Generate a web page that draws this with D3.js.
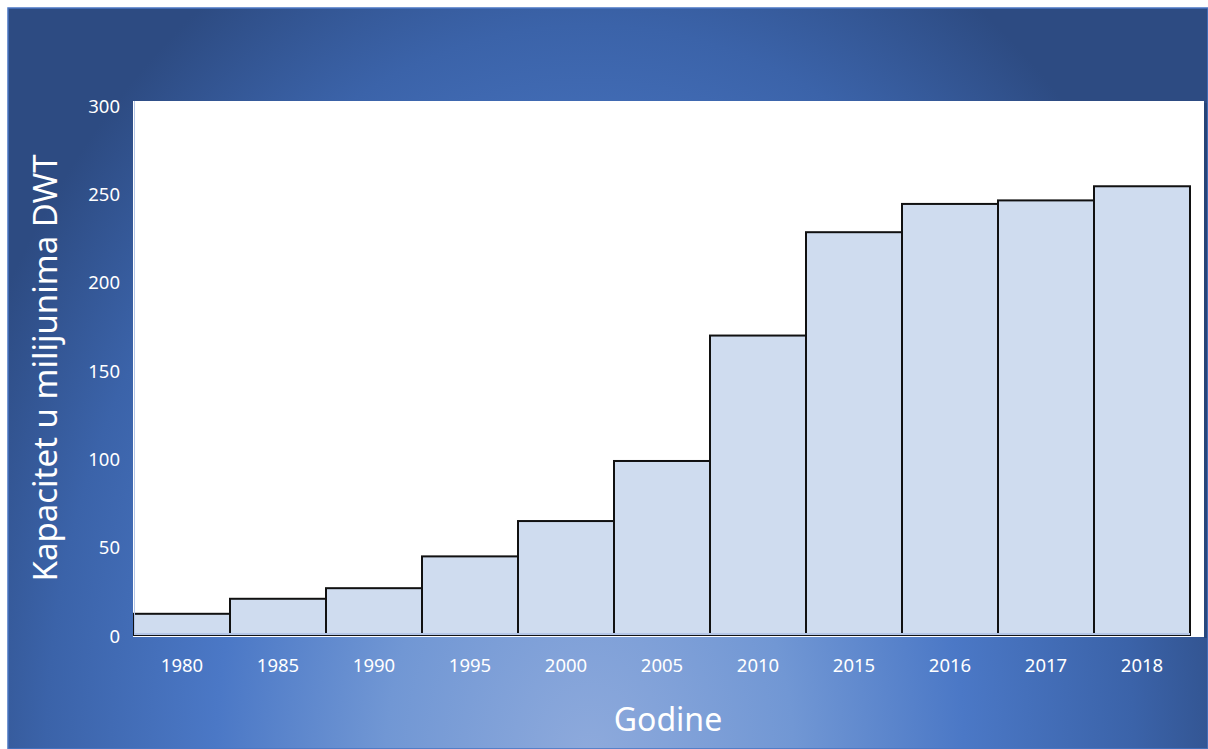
<!DOCTYPE html>
<html>
<head>
<meta charset="utf-8">
<script src="https://cdn.jsdelivr.net/npm/d3@7"></script>
<style>
  html, body { margin: 0; padding: 0; background: #fff; }
  svg { display: block; }
  text { font-family: "Noto Sans", "Open Sans", sans-serif; fill: #fff; }
</style>
</head>
<body>
<div id="chart"></div>
<script>
// data
const years = ['1980', '1985', '1990', '1995', '2000', '2005', '2010', '2015', '2016', '2017', '2018'];
const capacity = [12, 20.5, 26.5, 44.5, 64.5, 98.5, 169.5, 228, 244, 246, 254];
const yTicks = [0, 50, 100, 150, 200, 250, 300];

const width = 1208, height = 749;

const svg = d3.select('#chart')
  .append('svg')
    .attr('width', width)
    .attr('height', height);

const defs = svg.append('defs');
const grad = defs.append('radialGradient')
  .attr('id', 'bg')
  .attr('gradientUnits', 'userSpaceOnUse')
  .attr('cx', 590).attr('cy', 760).attr('r', 680)
  .attr('gradientTransform', 'translate(590,760) scale(1,1.35) translate(-590,-760)');
[[0, '#8eaadc'], [0.3, '#7197d4'], [0.55, '#4b78c6'], [0.8, '#3b63a9'], [1, '#2d4b82']]
  .forEach(([o, c]) => grad.append('stop').attr('offset', o).attr('stop-color', c));

// slide background
svg.append('rect')
  .attr('x', 8).attr('y', 8)
  .attr('width', width - 8).attr('height', height - 8)
  .attr('fill', 'url(#bg)')
  .attr('stroke', '#4a76c2')
  .attr('stroke-width', 1.5);

const x = d3.scaleBand().domain(years).range([134, 1190]).padding(0);
const y = d3.scaleLinear().domain([0, 300]).range([635, 105]);

// plot area
svg.append('rect')
  .attr('x', 1204).attr('y', 103).attr('width', 3).attr('height', 535)
  .attr('fill', '#22406f').attr('opacity', 0.6);
svg.append('rect')
  .attr('x', 133).attr('y', 101)
  .attr('width', 1071).attr('height', 536)
  .attr('fill', '#fff');

// bars
svg.append('g')
  .selectAll('rect')
  .data(years.map((yr, i) => ({yr, v: capacity[i]})))
  .join('rect')
    .attr('x', d => x(d.yr))
    .attr('y', d => y(d.v))
    .attr('width', x.bandwidth())
    .attr('height', d => y(0) - y(d.v))
    .attr('fill', '#cfdcef')
    .attr('stroke', '#111')
    .attr('stroke-width', 2);

// axis lines
svg.append('line')
  .attr('x1', 134).attr('x2', 1190)
  .attr('y1', y(0) - 1).attr('y2', y(0) - 1)
  .attr('stroke', '#b4c6e7').attr('stroke-width', 2);
svg.append('line')
  .attr('x1', 134.5).attr('x2', 134.5)
  .attr('y1', 101).attr('y2', y(0))
  .attr('stroke', '#b4c6e7').attr('stroke-width', 1);

// y axis
const yAxis = svg.append('g')
  .attr('transform', 'translate(120,0)')
  .call(d3.axisLeft(y).tickValues(yTicks).tickSize(0).tickPadding(0));
yAxis.select('.domain').remove();
yAxis.selectAll('text')
  .attr('fill', '#f2f2f2')
  .attr('dy', '0.38em')
  .style('font-size', '18.5px');

// x axis
const xAxis = svg.append('g')
  .attr('transform', 'translate(0,659)')
  .call(d3.axisBottom(x).tickSize(0).tickPadding(0));
xAxis.select('.domain').remove();
xAxis.selectAll('text')
  .attr('fill', '#f2f2f2')
  .attr('dy', '0.71em')
  .style('font-size', '18.5px');

// titles
svg.append('text')
  .attr('x', 668).attr('y', 731)
  .attr('text-anchor', 'middle')
  .style('font-size', '32px')
  .text('Godine');

svg.append('text')
  .attr('transform', 'translate(57,368) rotate(-90)')
  .attr('text-anchor', 'middle')
  .style('font-size', '33px')
  .text('Kapacitet u milijunima DWT');
</script>
</body>
</html>
